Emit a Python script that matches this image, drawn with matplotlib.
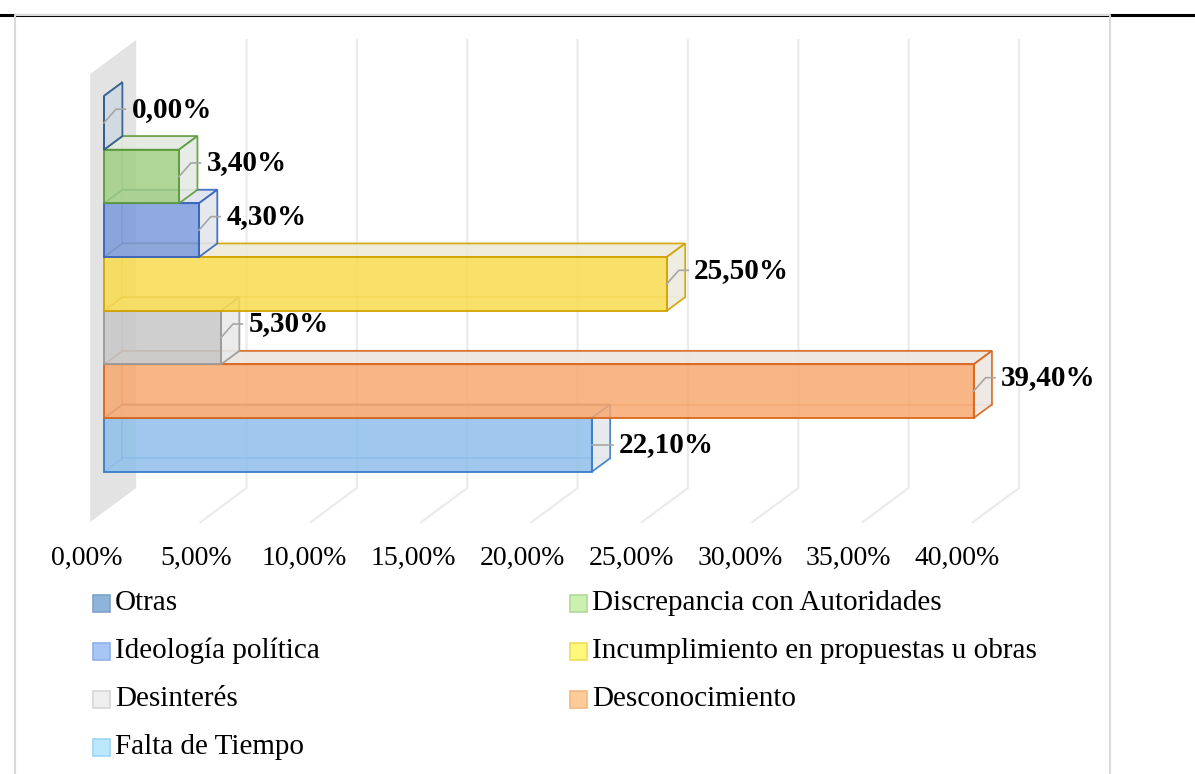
import matplotlib
matplotlib.use('Agg')
import matplotlib.pyplot as plt
from matplotlib.patches import Polygon, Rectangle
from matplotlib.lines import Line2D
from matplotlib.colors import to_rgb

plt.rcParams['font.family'] = ['Liberation Serif', 'DejaVu Serif']

# data, bottom bar first
categories = ['Falta de Tiempo', 'Desconocimiento', 'Desinterés',
              'Incumplimiento en propuestas u obras', 'Ideología política',
              'Discrepancia con Autoridades', 'Otras']
values = [22.1, 39.4, 5.3, 25.5, 4.3, 3.4, 0.0]
ticks = [0, 5, 10, 15, 20, 25, 30, 35, 40]
tick_labels = [f'{t:.2f}'.replace('.', ',') + '%' for t in ticks]

# legend order as in the chart (row by row)
legend_order = ['Otras', 'Discrepancia con Autoridades', 'Ideología política',
                'Incumplimiento en propuestas u obras', 'Desinterés',
                'Desconocimiento', 'Falta de Tiempo']

face = {'Falta de Tiempo': '#8fbfeb', 'Desconocimiento': '#f7a870',
        'Desinterés': '#c7c7c7', 'Incumplimiento en propuestas u obras': '#f9dc4f',
        'Ideología política': '#7a9bdb', 'Discrepancia con Autoridades': '#a2cf85',
        'Otras': '#8fa8c8'}
edge = {'Falta de Tiempo': '#3a7cc6', 'Desconocimiento': '#d9661c',
        'Desinterés': '#9a9a9a', 'Incumplimiento en propuestas u obras': '#d1a400',
        'Ideología política': '#3563c0', 'Discrepancia con Autoridades': '#5c9a3c',
        'Otras': '#2f5d8f'}
leg_face = {'Otras': '#8fb4da', 'Discrepancia con Autoridades': '#ccf0b0',
            'Ideología política': '#a8c6f5', 'Incumplimiento en propuestas u obras': '#fff87a',
            'Desinterés': '#efefef', 'Desconocimiento': '#ffcc99', 'Falta de Tiempo': '#bde8fc'}
leg_edge = {'Otras': '#7fa2c8', 'Discrepancia con Autoridades': '#b0d898',
            'Ideología política': '#8fb0e8', 'Incumplimiento en propuestas u obras': '#f0dc5c',
            'Desinterés': '#d6d6d6', 'Desconocimiento': '#f5b880', 'Falta de Tiempo': '#9dd4f7'}
# label sits at the front centre (0) or back centre (1) of the bar
label_back = [0, 1, 1, 1, 1, 1, 1]

W, H = 1195, 774
PX = 22.07     # pixels per percent
CAT = 53.7     # pixels per category
DDX = 46 / PX  # full depth offset
DDY = 34 / CAT
C_FLOOR = -1.244
C_TOP = 7.099


def P(v, c, d):
    return (v + (d - 0.3) * DDX, c + (d - 0.3) * DDY)


def light(col, k=0.12):
    r, g, b = to_rgb(col)
    base = to_rgb('#ececec')
    return (k * r + (1 - k) * base[0], k * g + (1 - k) * base[1], k * b + (1 - k) * base[2])


fig = plt.figure(figsize=(W / 100, H / 100), dpi=100)
ax = fig.add_axes([0, 0, 1, 1])
ax.set_xlim(-104 / PX, (W - 104) / PX)
ax.set_ylim(-(H - 445) / CAT, 445 / CAT)
ax.axis('off')

# frame
fig.add_artist(Line2D([0, 1], [1 - 15 / H] * 2, color='black', lw=2.2, transform=fig.transFigure))
fig.add_artist(Line2D([15 / W, 15 / W, 1110 / W, 1110 / W], [0, 1 - 15 / H, 1 - 15 / H, 0],
                      color='#d9d9d9', lw=1.5, transform=fig.transFigure, zorder=3))

# gridlines: floor + back wall
for t in ticks[1:]:
    x0, y0 = P(t, C_FLOOR, 0)
    x1, y1 = P(t, C_FLOOR, 1)
    x2, y2 = P(t, C_TOP, 1)
    ax.plot([x0, x1, x2], [y0, y1, y2], color='#ebebeb', lw=1.6, zorder=1)

# side wall at 0
wall = [P(0, C_FLOOR, 0), P(0, C_FLOOR, 1), P(0, C_TOP, 1), P(0, C_TOP, 0)]
ax.add_patch(Polygon(wall, closed=True, facecolor='#e3e3e3', edgecolor='none', zorder=1))

# bars
h = 0.5
for i, (cat, v) in enumerate(zip(categories, values)):
    fc, ec = face[cat], edge[cat]
    z = 2 + i
    # hidden edges
    for a, b in [(P(0, i - h, 0.7), P(0, i + h, 0.7)),
                 (P(0, i - h, 0.7), P(v, i - h, 0.7)),
                 (P(0, i - h, 0.3), P(0, i - h, 0.7))]:
        ax.plot([a[0], b[0]], [a[1], b[1]], color=ec, lw=1.2, alpha=0.5, zorder=z)
    top = [P(0, i + h, 0.3), P(v, i + h, 0.3), P(v, i + h, 0.7), P(0, i + h, 0.7)]
    side = [P(v, i - h, 0.3), P(v, i + h, 0.3), P(v, i + h, 0.7), P(v, i - h, 0.7)]
    k_side = 0.3 if v == 0 else 0.08
    ax.add_patch(Polygon(top, closed=True, facecolor=light(fc), edgecolor=ec, lw=1.3,
                         alpha=0.9, zorder=z))
    ax.add_patch(Polygon(side, closed=True, facecolor=light(fc, k_side), edgecolor=ec, lw=1.3,
                         alpha=0.9, zorder=z))
    ax.barh(i, v, height=2 * h, left=0, color=fc, alpha=0.85, edgecolor='none', zorder=z)
    ax.add_patch(Rectangle((0, i - h), v, 2 * h, fill=False, edgecolor=ec, lw=1.3, zorder=z))

# data labels with leader lines
for i, v in enumerate(values):
    fr = v
    br = v + 0.4 * DDX
    yf = i
    if label_back[i]:
        yl = i + 0.4 * DDY
        xs = [fr, fr + 12 / PX, br + 3 / PX]
        ys = [yf, yl, yl]
    else:
        yl = yf
        xs = [fr, br + 3 / PX]
        ys = [yl, yl]
    ax.plot(xs, ys, color='#a6a6a6', lw=1.2, zorder=20)
    ax.text(br + 9 / PX, yl, f'{v:.2f}'.replace('.', ',') + '%', fontsize=21,
            fontweight='bold', ha='left', va='center', zorder=21)

# tick labels
for t, lab in zip(ticks, tick_labels):
    xp = 87 + t * 21.76
    ax.text((xp - 104) / PX, (445 - 558) / CAT, lab, fontsize=20, ha='center', va='center')

# legend
rows = [603, 651, 699, 747]
cols = [93, 570]
for k, cat in enumerate(legend_order):
    r, cidx = divmod(k, 2)
    x0 = cols[cidx]
    y0 = rows[r]
    fig.add_artist(Rectangle((x0 / W, 1 - (y0 + 8.5) / H), 17 / W, 17 / H,
                             facecolor=leg_face[cat], edgecolor=leg_edge[cat], lw=1.2,
                             transform=fig.transFigure))
    fig.text((x0 + 22) / W, 1 - y0 / H, cat, fontsize=21, ha='left', va='center')

fig.savefig('out.png', dpi=100, facecolor='white')
